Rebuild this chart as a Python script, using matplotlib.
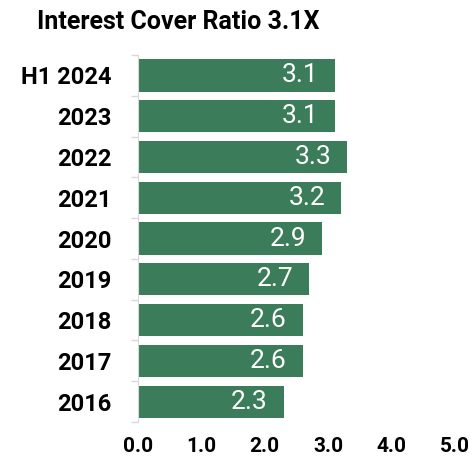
import numpy as np
import matplotlib.pyplot as plt

# data, top to bottom as shown
years = ['H1 2024', '2023', '2022', '2021', '2020', '2019', '2018', '2017', '2016']
ratio = [3.1, 3.1, 3.3, 3.2, 2.9, 2.7, 2.6, 2.6, 2.3]
xticks = [0.0, 1.0, 2.0, 3.0, 4.0, 5.0]

green = '#3b7d5b'
plt.rcParams['font.family'] = ['Roboto', 'DejaVu Sans']

fig = plt.figure(figsize=(4.77, 4.59), dpi=100)
ax = fig.add_axes([0.289, 0.0806, 0.665, 0.7994])

pos = np.arange(len(years))
ax.barh(pos, ratio, height=0.79, color=green)
for p, v in zip(pos, ratio):
    ax.text(v - 0.25, p, '%.1f' % v, ha='right', va='center',
            color='white', fontsize=19)

ax.set_ylim(len(years) - 0.5, -0.5)
ax.set_xlim(0, 5)
ax.set_yticks(pos)
ax.set_yticklabels(years, fontsize=17, fontweight='bold')
# gray ticks between categories
ax.set_yticks(np.arange(-0.5, len(years)), minor=True)
ax.tick_params(axis='y', which='minor', length=5, color='#d9d9d9', width=1)
ax.tick_params(axis='y', which='major', length=0, pad=19)
ax.set_xticks(xticks)
ax.set_xticklabels(['%.1f' % t for t in xticks], fontsize=15, fontweight='bold')
ax.tick_params(axis='x', length=0, pad=11)

for s in ['top', 'right', 'bottom']:
    ax.spines[s].set_visible(False)
ax.spines['left'].set_color('#d9d9d9')

fig.text(37 / 477, 1 - 22 / 459, 'Interest Cover Ratio 3.1X', ha='left',
         va='center', fontsize=18, fontweight='bold')

plt.savefig('out.png', dpi=100)
